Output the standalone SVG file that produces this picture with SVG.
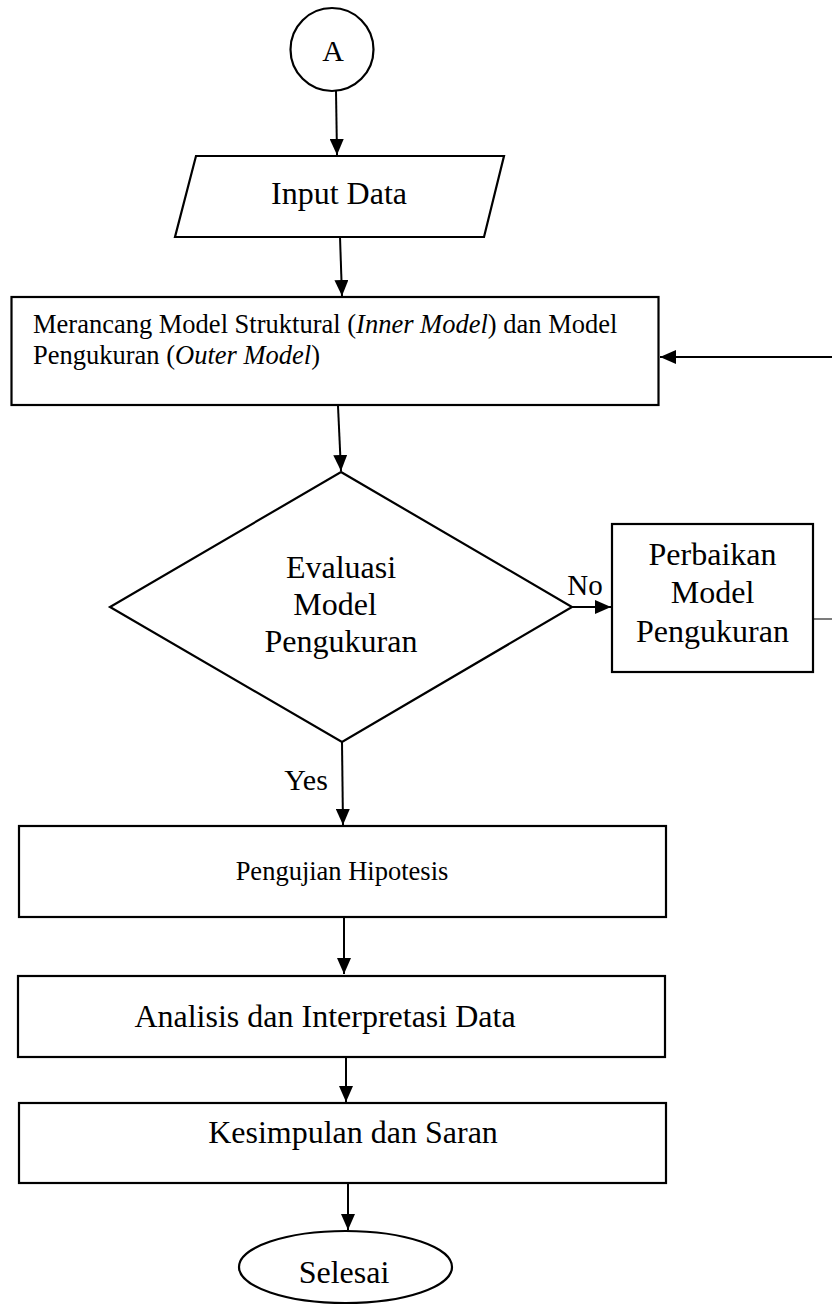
<svg xmlns="http://www.w3.org/2000/svg" width="832" height="1310" viewBox="0 0 832 1310">
<style>
.shape{fill:#fff;stroke:#000;stroke-width:2.2}
.conn{fill:none;stroke:#000;stroke-width:2}
.thin{fill:none;stroke:#444;stroke-width:1.4}
text{font-family:"Liberation Serif","Times New Roman",serif;fill:#000}
.c{text-anchor:middle}
.big{font-size:32px}
.mid{font-size:26.5px}
</style>
<defs>
<marker id="ah" markerUnits="userSpaceOnUse" markerWidth="16" markerHeight="14" refX="16" refY="7" orient="auto">
<path d="M0,0 L16,7 L0,14 z" fill="#000"/>
</marker>
</defs>
<rect width="832" height="1310" fill="#fff"/>
<g id="connectors">
<line class="conn" x1="336" y1="91" x2="337" y2="155" marker-end="url(#ah)"/>
<line class="conn" x1="340" y1="237" x2="342" y2="296" marker-end="url(#ah)"/>
<line class="conn" x1="338" y1="406" x2="341" y2="471" marker-end="url(#ah)"/>
<line class="conn" x1="572" y1="607" x2="611" y2="607" marker-end="url(#ah)"/>
<line class="conn" x1="342" y1="742" x2="343" y2="825" marker-end="url(#ah)"/>
<line class="conn" x1="344" y1="918" x2="344" y2="974" marker-end="url(#ah)"/>
<line class="conn" x1="346" y1="1058" x2="346" y2="1102" marker-end="url(#ah)"/>
<line class="conn" x1="348" y1="1184" x2="348" y2="1230" marker-end="url(#ah)"/>
<line class="conn" x1="832" y1="357" x2="660" y2="357" marker-end="url(#ah)"/>
<line class="thin" x1="813" y1="619" x2="832" y2="619"/>
<text class="c" x="306" y="790" style="font-size:30px">Yes</text>
<text class="c" x="585" y="595" style="font-size:29px">No</text>
</g>
<g id="start">
<circle class="shape" cx="332" cy="49.5" r="41.5"/>
<text class="c" x="333" y="61" style="font-size:30px">A</text>
</g>
<g id="input">
<polygon class="shape" points="196,156 504,156 484,237 175,237"/>
<text class="c big" x="339" y="204">Input Data</text>
</g>
<g id="design">
<rect class="shape" x="11.5" y="297" width="647" height="108"/>
<text class="mid" x="33" y="333">Merancang Model Struktural (<tspan font-style="italic">Inner Model</tspan>) dan Model</text>
<text class="mid" x="33" y="364">Pengukuran (<tspan font-style="italic">Outer Model</tspan>)</text>
</g>
<g id="evaluate">
<polygon class="shape" points="341,472 572,607 342,742 110,607"/>
<text class="c big" x="341" y="578">Evaluasi</text>
<text class="c big" x="335" y="615">Model</text>
<text class="c big" x="341" y="652">Pengukuran</text>
</g>
<g id="fix">
<rect class="shape" x="612" y="524" width="201" height="148"/>
<text class="c big" x="712.5" y="565">Perbaikan</text>
<text class="c big" x="712.5" y="603">Model</text>
<text class="c big" x="712.5" y="642">Pengukuran</text>
</g>
<g id="test">
<rect class="shape" x="19" y="826" width="647" height="91"/>
<text class="c mid" x="342" y="880">Pengujian Hipotesis</text>
</g>
<g id="analysis">
<rect class="shape" x="18" y="976" width="647" height="81"/>
<text class="c big" x="325" y="1027">Analisis dan Interpretasi Data</text>
</g>
<g id="conclusion">
<rect class="shape" x="19" y="1103" width="647" height="80"/>
<text class="c big" x="353" y="1143">Kesimpulan dan Saran</text>
</g>
<g id="end">
<ellipse class="shape" cx="345.5" cy="1267" rx="106.5" ry="36"/>
<text class="c big" x="344" y="1283">Selesai</text>
</g>
</svg>
